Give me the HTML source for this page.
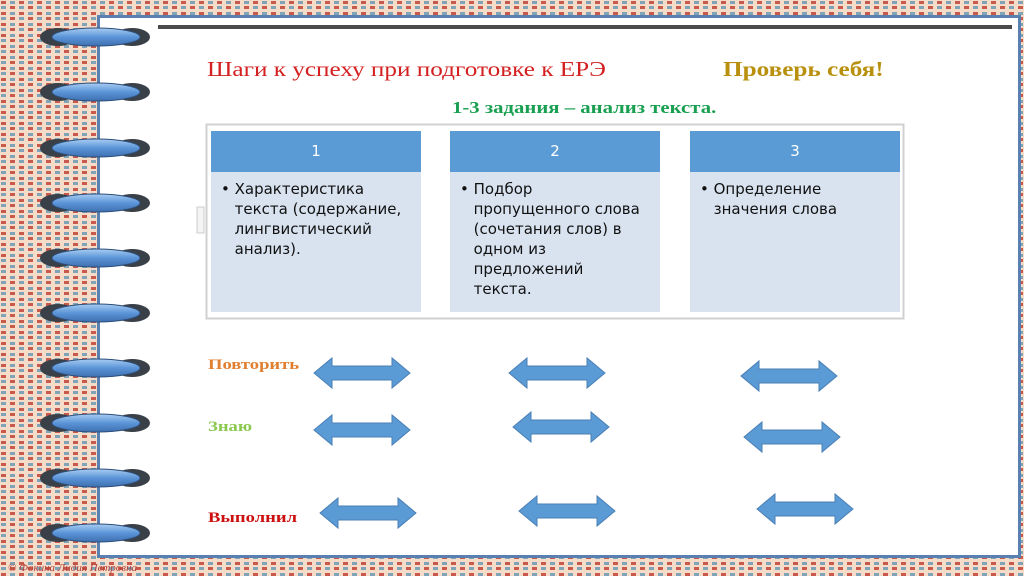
<!DOCTYPE html>
<html><head><meta charset="utf-8"><style>
body{margin:0;width:1024px;height:576px;overflow:hidden;position:relative;font-family:"Liberation Sans","DejaVu Sans",sans-serif}
.abs{position:absolute}
.sx{transform-origin:0 0;white-space:nowrap}
.hdr{background:#5b9bd5;color:#fff;text-align:center;font-size:15px;line-height:41px;font-family:"DejaVu Sans",sans-serif}
.bd{background:#d9e3f0;color:#111;font-family:"DejaVu Sans",sans-serif;font-size:15px;line-height:20px;padding:7px 0 0 10px;box-sizing:border-box;white-space:nowrap}
.bd span{display:inline-block;vertical-align:top}
.lbl{font-family:"Liberation Serif",serif;font-weight:bold;font-size:15px;transform:scaleX(1.24);transform-origin:0 0}
</style></head><body>
<svg class="abs" style="left:0;top:0" width="1024" height="576">
<defs>
<pattern id="p" width="18" height="11" patternUnits="userSpaceOnUse">
<rect width="18" height="11" fill="#f4dcc8"/>
<rect x="1" y="1" width="5" height="3" fill="#c9584d"/>
<rect x="10" y="1" width="5" height="3" fill="#7fa3b8"/>
<rect x="1" y="6" width="5" height="3" fill="#7fa3b8"/>
<rect x="10" y="6" width="5" height="3" fill="#c9584d"/>
</pattern>
<linearGradient id="rg" x1="0" y1="0" x2="0" y2="1">
<stop offset="0" stop-color="#a9cdf2"/><stop offset="0.5" stop-color="#5b95d8"/><stop offset="1" stop-color="#3d6fb0"/>
</linearGradient>
<g id="ring">
<ellipse cx="58" cy="0" rx="18" ry="9" fill="#3a4048"/>
<ellipse cx="132" cy="0" rx="18" ry="9" fill="#3a4048"/>
<ellipse cx="96" cy="0" rx="44" ry="9" fill="url(#rg)" stroke="#2e4f7a" stroke-width="1"/>
</g>
<path id="arr" d="M0,15 L18,0 L18,8 L78,8 L78,0 L96,15 L78,30 L78,22 L18,22 L18,30 Z" fill="#5b9bd5" stroke="#4a7fb5" stroke-width="1"/>
</defs>
<rect width="1024" height="576" fill="url(#p)"/>
<rect x="98.5" y="16.5" width="921" height="540" fill="#fff" stroke="#5a80b2" stroke-width="3"/>
<rect x="158" y="25" width="854" height="4" fill="#4a4a4a"/>
<use href="#ring" y="37"/><use href="#ring" y="92"/><use href="#ring" y="148"/><use href="#ring" y="203"/><use href="#ring" y="258"/><use href="#ring" y="313"/><use href="#ring" y="368"/><use href="#ring" y="423"/><use href="#ring" y="478"/><use href="#ring" y="533"/>
<rect x="206.5" y="124.5" width="697" height="194" fill="none" stroke="#d0d0d0" stroke-width="2"/>
<rect x="197" y="207" width="7" height="26" fill="#f4f4f4" stroke="#ccc"/>
<use href="#arr" x="314" y="358"/><use href="#arr" x="509" y="358"/><use href="#arr" x="741" y="361"/>
<use href="#arr" x="314" y="415"/><use href="#arr" x="513" y="412"/><use href="#arr" x="744" y="422"/>
<use href="#arr" x="320" y="498"/><use href="#arr" x="519" y="496"/><use href="#arr" x="757" y="494"/>
<text x="8" y="571" font-family="Liberation Serif" font-style="italic" font-size="11" fill="#b0403a">© Фокина Лидия Петровна</text>
</svg>
<div class="abs sx" style="left:207px;top:57px;color:#d42020;font-family:'Liberation Serif',serif;font-size:21px;transform:scaleX(1.2)">Шаги к успеху при подготовке к ЕРЭ</div>
<div class="abs sx" style="left:723px;top:57px;color:#b8900e;font-family:'Liberation Serif',serif;font-size:21px;font-weight:bold;transform:scaleX(1.2)">Проверь себя!</div>
<div class="abs sx" style="left:452px;top:98px;color:#18a050;font-family:'Liberation Serif',serif;font-size:17px;font-weight:bold;transform:scaleX(1.22)">1-3 задания – анализ текста.</div>
<div class="abs hdr" style="left:211px;top:131px;width:210px;height:41px">1</div>
<div class="abs bd" style="left:211px;top:172px;width:210px;height:140px">•&nbsp;<span>Характеристика<br>текста (содержание,<br>лингвистический<br>анализ).</span></div>
<div class="abs hdr" style="left:450px;top:131px;width:210px;height:41px">2</div>
<div class="abs bd" style="left:450px;top:172px;width:210px;height:140px">•&nbsp;<span>Подбор<br>пропущенного слова<br>(сочетания слов) в<br>одном из<br>предложений<br>текста.</span></div>
<div class="abs hdr" style="left:690px;top:131px;width:210px;height:41px">3</div>
<div class="abs bd" style="left:690px;top:172px;width:210px;height:140px">•&nbsp;<span>Определение<br>значения слова</span></div>
<div class="abs lbl" style="left:208px;top:357px;color:#e07f30">Повторить</div>
<div class="abs lbl" style="left:208px;top:419px;color:#8cc850">Знаю</div>
<div class="abs lbl" style="left:208px;top:510px;color:#cc1010">Выполнил</div>
</body></html>
